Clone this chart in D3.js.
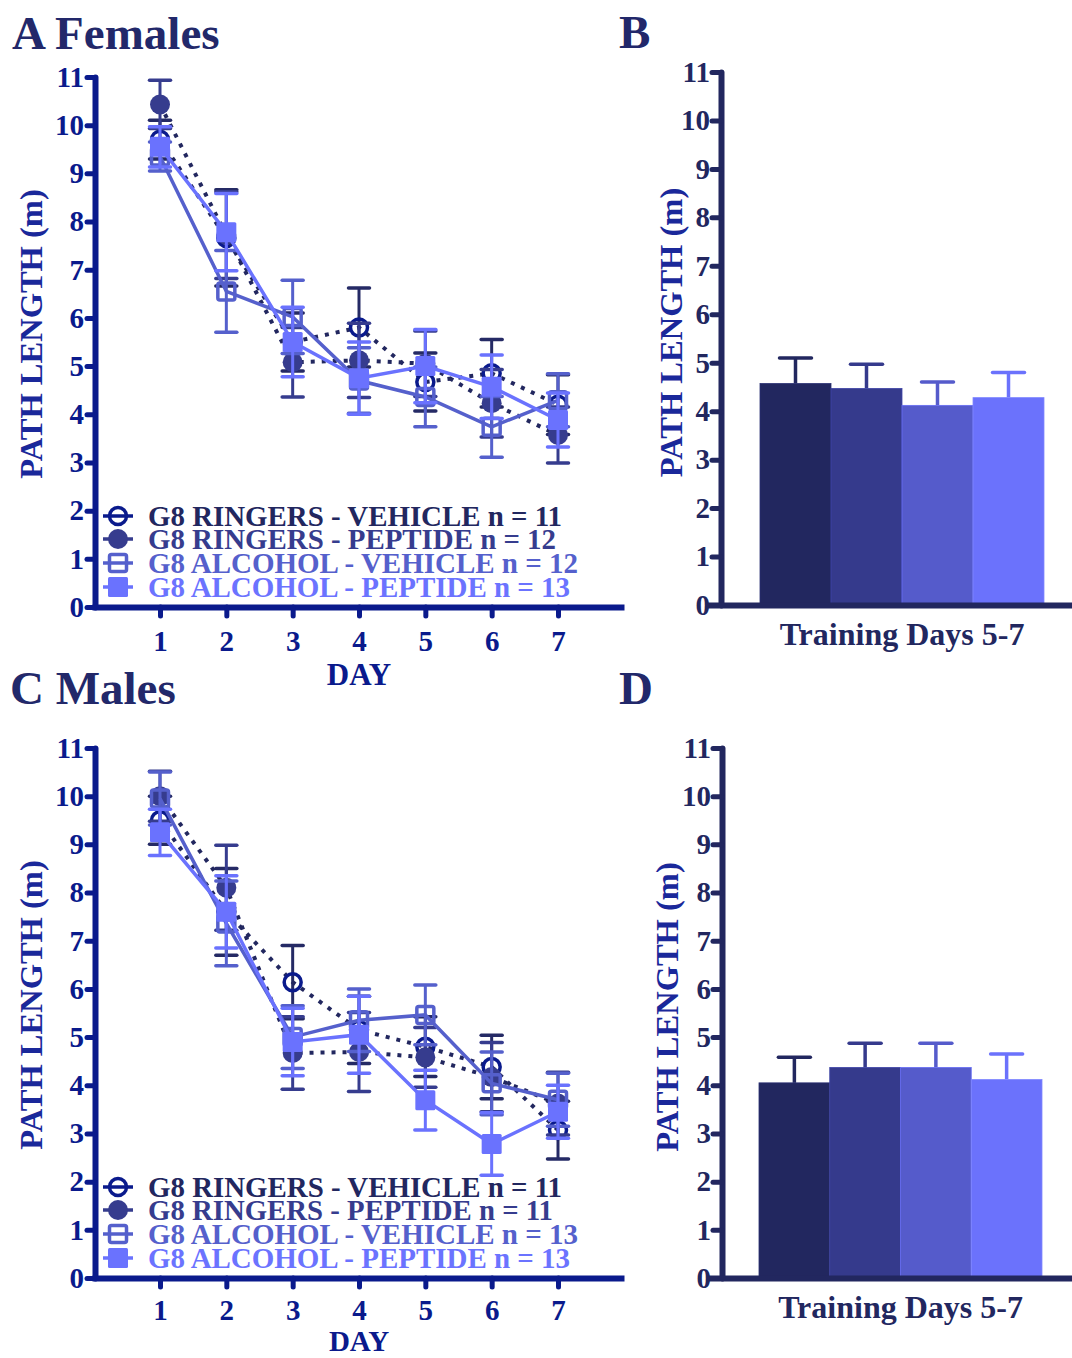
<!DOCTYPE html>
<html><head><meta charset="utf-8">
<script src="https://cdn.jsdelivr.net/npm/d3@7"></script>
<style>
body{margin:0;background:#fff}
svg{display:block}
text{font-family:"Liberation Serif","Times New Roman",serif;font-weight:bold}
</style>
</head><body>
<svg id="chart" width="1072" height="1358"></svg>
<script>
// ---------- DATA ----------
const days = [1, 2, 3, 4, 5, 6, 7];
const yTicks = [0,1,2,3,4,5,6,7,8,9,10,11];
const groupNames = ["G8 RINGERS - VEHICLE", "G8 RINGERS - PEPTIDE", "G8 ALCOHOL - VEHICLE", "G8 ALCOHOL - PEPTIDE"];
const femaleN = [11, 12, 12, 13];
const maleN = [11, 11, 13, 13];

// Females (panel A): mean path length per day, and SEM
const femRV = [9.70, 7.66, 5.50, 5.80, 4.67, 4.85, 4.20];
const femRVerr = [0.40, 1.00, 0.60, 0.82, 0.60, 0.70, 0.62];
const femRP = [10.43, 7.72, 5.08, 5.12, 5.05, 4.23, 3.57];
const femRPerr = [0.50, 0.90, 0.72, 0.77, 0.68, 0.70, 0.58];
const femAV = [9.35, 6.55, 6.02, 4.70, 4.36, 3.74, 4.29];
const femAVerr = [0.30, 0.85, 0.76, 0.68, 0.62, 0.63, 0.55];
const femAP = [9.55, 7.78, 5.50, 4.75, 5.00, 4.57, 3.88];
const femAPerr = [0.42, 0.80, 0.72, 0.75, 0.76, 0.66, 0.56];

// Males (panel C)
const maleRV = [9.50, 7.60, 6.14, 5.15, 4.80, 4.38, 3.07];
const maleRVerr = [0.50, 0.90, 0.76, 0.70, 0.62, 0.66, 0.60];
const maleRP = [10.00, 8.10, 4.67, 4.69, 4.58, 4.17, 3.62];
const maleRPerr = [0.52, 0.88, 0.75, 0.82, 0.62, 0.72, 0.65];
const maleAV = [9.95, 7.36, 5.00, 5.35, 5.46, 4.04, 3.70];
const maleAVerr = [0.55, 0.88, 0.65, 0.65, 0.62, 0.65, 0.55];
const maleAP = [9.25, 7.60, 4.90, 5.05, 3.69, 2.78, 3.45];
const maleAPerr = [0.48, 0.75, 0.70, 0.80, 0.62, 0.65, 0.55];

// Bar panels: training days 5-7
const barCategory = "Training Days 5-7";
const femBar = [4.57, 4.47, 4.12, 4.28];
const femBarErr = [0.53, 0.50, 0.48, 0.52];
const maleBar = [4.05, 4.37, 4.37, 4.12];
const maleBarErr = [0.53, 0.50, 0.50, 0.53];

// ---------- STYLE ----------
const markerColor = ["#0a1a8c", "#363c8e", "#5560cc", "#6a72fe"];
const errColor    = ["#252a65", "#363c8e", "#5560cc", "#6a72fe"];
const lineColor   = ["#22275f", "#22275f", "#5560cc", "#6a72fe"];
const textColor   = ["#22275f", "#363c8e", "#5560cc", "#6b73ff"];
const markerType  = ["openCircle", "filledCircle", "openSquare", "filledSquare"];
const dotted      = [true, true, false, false];
const barColors   = ["#22275f", "#353a8c", "#555bcb", "#6b72fc"];
const axisBlue = "#0a1a8c";
const axisDark = "#22275f";
const titleColor = "#22286a";
const yTitleColor = "#1a289a";

const svg = d3.select("#chart");

function drawMarker(g, type, cx, cy, i) {
  if (type === "openCircle") {
    g.append("circle").attr("cx", cx).attr("cy", cy).attr("r", 8.5)
      .attr("fill", "none").attr("stroke", markerColor[i]).attr("stroke-width", 3.5);
  } else if (type === "filledCircle") {
    g.append("circle").attr("cx", cx).attr("cy", cy).attr("r", 10)
      .attr("fill", markerColor[i]);
  } else if (type === "openSquare") {
    g.append("rect").attr("x", cx - 8.5).attr("y", cy - 8.5).attr("width", 17).attr("height", 17)
      .attr("rx", 2).attr("fill", "none").attr("stroke", markerColor[i]).attr("stroke-width", 3.5);
  } else {
    g.append("rect").attr("x", cx - 10).attr("y", cy - 10).attr("width", 20).attr("height", 20)
      .attr("rx", 1.5).attr("fill", markerColor[i]);
  }
}

function lineChart(cfg) {
  const g = svg.append("g");
  const x = d3.scaleLinear().domain([1, 7]).range([160, 558]);
  const y = d3.scaleLinear().domain([0, 11]).range([cfg.y0, cfg.y11]);
  const axisX0 = 95, axisX1 = 624;
  const xAxisScale = x.copy().domain([x.invert(axisX0 - 3), x.invert(axisX1)]).range([axisX0 - 3, axisX1]);

  // Y axis
  const ya = g.append("g").attr("transform", `translate(${axisX0},0)`)
    .call(d3.axisLeft(y).tickValues(yTicks).tickSize(8).tickSizeOuter(0).tickPadding(3));
  ya.select(".domain").attr("stroke", axisBlue).attr("stroke-width", 6).attr("stroke-linecap", "round");
  ya.selectAll(".tick line").attr("stroke", axisBlue).attr("stroke-width", 5).attr("stroke-linecap", "round");
  ya.selectAll(".tick text").attr("fill", axisBlue).attr("font-size", 29).attr("font-family", "Liberation Serif").attr("font-weight", "bold");

  // X axis
  const xa = g.append("g").attr("transform", `translate(0,${cfg.y0})`)
    .call(d3.axisBottom(xAxisScale).tickValues(days).tickSize(9).tickSizeOuter(0).tickPadding(cfg.xPad));
  xa.select(".domain").attr("stroke", axisBlue).attr("stroke-width", 6);
  xa.selectAll(".tick line").attr("stroke", axisBlue).attr("stroke-width", 5).attr("stroke-linecap", "round");
  xa.selectAll(".tick text").attr("fill", axisBlue).attr("font-size", 29).attr("font-family", "Liberation Serif").attr("font-weight", "bold");

  g.append("text").attr("x", x(4)).attr("y", cfg.y0 + cfg.dayDy).attr("text-anchor", "middle")
    .attr("fill", axisBlue).attr("font-size", cfg.daySize).text("DAY");

  g.append("text").attr("transform", `translate(42,${(cfg.y0 + cfg.y11) / 2 - 8}) rotate(-90)`)
    .attr("text-anchor", "middle").attr("fill", yTitleColor).attr("font-size", 32.5).text("PATH LENGTH (m)");

  // Series
  cfg.series.forEach((s, i) => {
    const sg = g.append("g");
    // error bars
    days.forEach((d, k) => {
      const cx = x(d), m = s.mean[k], e = s.err[k];
      sg.append("line").attr("x1", cx).attr("x2", cx).attr("y1", y(m - e)).attr("y2", y(m + e))
        .attr("stroke", errColor[i]).attr("stroke-width", 3);
      [m - e, m + e].forEach(v => {
        sg.append("line").attr("x1", cx - 10.5).attr("x2", cx + 10.5).attr("y1", y(v)).attr("y2", y(v))
          .attr("stroke", errColor[i]).attr("stroke-width", 3.5).attr("stroke-linecap", "round");
      });
    });
    // line
    const line = d3.line().x((d, k) => x(days[k])).y(d => y(d));
    sg.append("path").datum(s.mean).attr("d", line).attr("fill", "none")
      .attr("stroke", lineColor[i]).attr("stroke-width", dotted[i] ? 4 : 3.5)
      .attr("stroke-dasharray", dotted[i] ? "4,7" : null);
    // markers
    days.forEach((d, k) => drawMarker(sg, markerType[i], x(d), y(s.mean[k]), i));
  });

  // Legend
  cfg.legendY.forEach((ly, i) => {
    const lg = g.append("g");
    lg.append("line").attr("x1", 103).attr("x2", 133).attr("y1", ly).attr("y2", ly)
      .attr("stroke", markerColor[i]).attr("stroke-width", 3.5);
    drawMarker(lg, markerType[i], 118, ly, i);
    lg.append("text").attr("x", 148).attr("y", ly + 10).attr("fill", textColor[i])
      .attr("font-size", 29).attr("textLength", cfg.legendW[i]).attr("lengthAdjust", "spacingAndGlyphs")
      .text(`${groupNames[i]} n = ${cfg.n[i]}`);
  });
}

function barChart(cfg) {
  const g = svg.append("g");
  const y = d3.scaleLinear().domain([0, 11]).range([cfg.y0, cfg.y11]);
  const xb = d3.scaleBand().domain(d3.range(cfg.values.length)).range([cfg.barX0, cfg.barX1]).padding(0);
  const ax = cfg.axisX;

  // bars
  cfg.values.forEach((v, i) => {
    const bx = xb(i), bw = xb.bandwidth(), cx = bx + bw / 2;
    g.append("line").attr("x1", cx).attr("x2", cx).attr("y1", y(v)).attr("y2", y(v + cfg.errs[i]))
      .attr("stroke", barColors[i]).attr("stroke-width", 3.5);
    g.append("line").attr("x1", cx - 16).attr("x2", cx + 16).attr("y1", y(v + cfg.errs[i])).attr("y2", y(v + cfg.errs[i]))
      .attr("stroke", barColors[i]).attr("stroke-width", 3.5).attr("stroke-linecap", "round");
    g.append("rect").attr("x", bx).attr("y", y(v)).attr("width", bw).attr("height", y(0) - y(v))
      .attr("fill", barColors[i]).attr("stroke", d3.color(barColors[i]).brighter(0.5)).attr("stroke-width", 0.8);
  });

  const ya = g.append("g").attr("transform", `translate(${ax},0)`)
    .call(d3.axisLeft(y).tickValues(yTicks).tickSize(9).tickSizeOuter(0).tickPadding(2));
  ya.select(".domain").attr("stroke", axisDark).attr("stroke-width", 6).attr("stroke-linecap", "round");
  ya.selectAll(".tick line").attr("stroke", axisDark).attr("stroke-width", 5).attr("stroke-linecap", "round");
  ya.selectAll(".tick text").attr("fill", axisDark).attr("font-size", 29).attr("font-family", "Liberation Serif").attr("font-weight", "bold");

  const xs = d3.scaleBand().domain([barCategory]).range([ax - 15, 1072]);
  const xa = g.append("g").attr("transform", `translate(0,${cfg.y0})`)
    .call(d3.axisBottom(xs).tickSize(0).tickSizeOuter(0).tickPadding(17));
  xa.select(".domain").attr("stroke", axisDark).attr("stroke-width", 6);
  xa.selectAll(".tick text").attr("fill", axisDark).attr("font-size", 32)
    .attr("x", (cfg.barX0 + cfg.barX1) / 2 - xs(barCategory) - xs.bandwidth() / 2)
    .attr("font-family", "Liberation Serif").attr("font-weight", "bold");

  g.append("text").attr("transform", `translate(${cfg.titleX},${(cfg.y0 + cfg.y11) / 2 - 6}) rotate(-90)`)
    .attr("text-anchor", "middle").attr("fill", yTitleColor).attr("font-size", 32.5).text("PATH LENGTH (m)");
}

// ---------- PANELS ----------
lineChart({
  y0: 607, y11: 77, n: femaleN, dayDy: 78, daySize: 31, xPad: 14,
  series: [
    {mean: femRV, err: femRVerr}, {mean: femRP, err: femRPerr},
    {mean: femAV, err: femAVerr}, {mean: femAP, err: femAPerr}
  ],
  legendY: [516, 539, 563, 587], legendW: [414, 408, 430, 422]
});
lineChart({
  y0: 1278, y11: 748, n: maleN, dayDy: 73, daySize: 29, xPad: 12,
  series: [
    {mean: maleRV, err: maleRVerr}, {mean: maleRP, err: maleRPerr},
    {mean: maleAV, err: maleAVerr}, {mean: maleAP, err: maleAPerr}
  ],
  legendY: [1187, 1210, 1234, 1258], legendW: [414, 405, 430, 422]
});
barChart({ y0: 605, y11: 72, axisX: 721, barX0: 760, barX1: 1044, values: femBar, errs: femBarErr, titleX: 682 });
barChart({ y0: 1278, y11: 748, axisX: 722, barX0: 759, barX1: 1042, values: maleBar, errs: maleBarErr, titleX: 678 });

// Panel titles
[["A Females", 12, 49], ["B", 619, 48], ["C Males", 10, 704], ["D", 619, 704]].forEach(([t, tx, ty]) => {
  svg.append("text").attr("x", tx).attr("y", ty).attr("fill", titleColor).attr("font-size", 47).text(t);
});
</script>
</body></html>
